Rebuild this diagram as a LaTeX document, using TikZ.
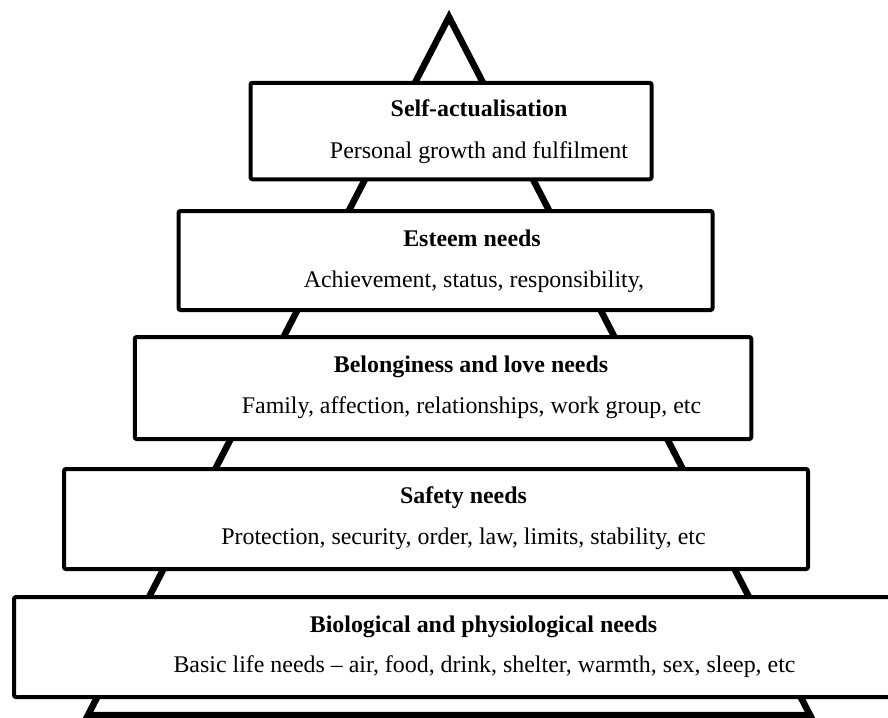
\documentclass[tikz,border=0pt]{standalone}
\usepackage{fontspec}
\setmainfont{Liberation Serif}
\begin{document}
\begin{tikzpicture}[x=1pt,y=-1pt,
  tier/.style={draw, line width=4pt, fill=white, rounded corners=2pt, inner sep=0pt},
  head/.style={font=\fontsize{23.9}{28}\selectfont\bfseries, anchor=base, inner sep=0pt},
  body/.style={font=\fontsize{23.9}{28}\selectfont, anchor=base, inner sep=0pt},
  frame/.style={line width=6.5pt, line join=miter, miter limit=20}]
\clip (0,0) rectangle (888,717);
\fill[white] (0,0) rectangle (888,717);

% the pyramid outline behind the tiers
\coordinate (apex) at (449,17);
\coordinate (baseL) at (88,715);
\coordinate (baseR) at (810,715);
\draw[frame] (apex) -- (baseR) -- (baseL) -- cycle;

% tiers, top to bottom
\node[tier, minimum width=401pt, minimum height=96.5pt] (t1) at (451,131) {};
\node[tier, minimum width=534pt, minimum height=99pt] (t2) at (445.5,260.5) {};
\node[tier, minimum width=616.5pt, minimum height=102pt] (t3) at (443,388) {};
\node[tier, minimum width=744pt, minimum height=100pt] (t4) at (436,519) {};
\node[tier, minimum width=886pt, minimum height=100pt] (t5) at (457,647) {};

% labels
\node[head] (h1) at (479,116) {Self-actualisation};
\node[body] (b1) at (479,158) {Personal growth and fulfilment};
\node[head] (h2) at (472,246) {Esteem needs};
\node[body] (b2) at (474,287) {Achievement, status, responsibility,};
\node[head] (h3) at (471,372) {Belonginess and love needs};
\node[body] (b3) at (471.5,413) {Family, affection, relationships, work group, etc};
\node[head] (h4) at (463.5,503) {Safety needs};
\node[body] (b4) at (463.5,544) {Protection, security, order, law, limits, stability, etc};
\node[head] (h5) at (483.5,632) {Biological and physiological needs};
\node[body] (b5) at (484.5,672) {Basic life needs -- air, food, drink, shelter, warmth, sex, sleep, etc};
\end{tikzpicture}
\end{document}
